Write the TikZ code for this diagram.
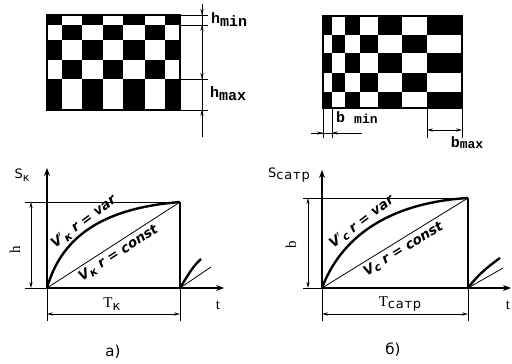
\documentclass[tikz,border=0pt]{standalone}
\usepackage{fontspec}
\setmainfont{Liberation Serif}
\newfontfamily\monof{Liberation Mono}
\newfontfamily\snsf{DejaVu Sans}
\usetikzlibrary{arrows.meta}
\tikzset{
  x=1pt, y=-1pt,
  thin line/.style={line width=0.8pt},
  thick line/.style={line width=2.4pt},
  dimline/.style={line width=0.8pt},
  dimtip/.style={-{Stealth[length=6pt,width=3.2pt]}},
  dimboth/.style={{Stealth[length=6pt,width=3.2pt]}-{Stealth[length=6pt,width=3.2pt]}},
  axisarrow/.style={line width=2.4pt,-{Stealth[length=8pt,width=6pt]}},
  dimlabel/.style={font=\monof\bfseries\fontsize{15}{15}\selectfont, inner sep=0pt},
  curvelabel/.style={font=\snsf\bfseries\itshape\fontsize{13.5}{13.5}\selectfont, inner sep=0pt},
  axlabel/.style={font=\snsf\fontsize{13}{13}\selectfont, inner sep=0pt},
  caption/.style={font=\snsf\fontsize{15}{15}\selectfont, inner sep=0pt},
}
\newcommand{\sbk}[1]{\raisebox{-2.5pt}{\fontsize{11}{11}\selectfont #1}}
\newcommand{\sbw}[1]{\raisebox{-2.5pt}{\snsf\fontsize{13}{13}\selectfont\addfontfeatures{LetterSpace=6} #1}}
\begin{document}
\begin{tikzpicture}
\useasboundingbox (0,0) rectangle (512,364);
% ---------- left checkerboard ----------
\foreach \x/\xx [count=\i] in {47/62,62/82,82/103,103/123,123/145,145/165,165/180}
  \foreach \y/\yy [count=\j] in {15/25,25/40,40/60,60/79,79/110}
  { \pgfmathtruncatemacro\p{mod(\i+\j,2)}
    \ifnum\p=0 \fill[black] (\x,\y) rectangle (\xx,\yy); \fi }
\draw[line width=1.2pt] (47,15) rectangle (180,110);
\foreach \y in {15,25,79,110} \draw[dimline] (180,\y) -- (208,\y);
\coordinate (ht) at (202,4);
\coordinate (hb) at (202,137);
\draw[dimline] (ht) -- (hb);
\draw[dimline,dimtip] (202,6) -- (202,15);
\draw[dimline,dimtip] (202,34) -- (202,25);
\draw[dimline,dimtip] (202,70) -- (202,79);
\draw[dimline,dimtip] (202,119) -- (202,110);
\node[dimlabel,anchor=west] (hmin) at (211,20) {h\raisebox{-3pt}{min}};
\node[dimlabel,anchor=west] (hmax) at (210,94) {h\raisebox{-3pt}{max}};
% ---------- right checkerboard ----------
\foreach \x/\xx [count=\i] in {323/332,332/345,345/360,360/378,378/402,402/427,427/462}
  \foreach \y/\yy [count=\j] in {16/35,35/53,53/73,73/92,92/108}
  { \pgfmathtruncatemacro\p{mod(\i+\j,2)}
    \ifnum\p=0 \fill[black] (\x,\y) rectangle (\xx,\yy); \fi }
\draw[line width=1.2pt] (323,16) rectangle (462,108);
\foreach \x in {323,332,427,462} \draw[dimline] (\x,108) -- (\x,138);
\coordinate (bl) at (311,133);
\coordinate (br) at (362,133);
\draw[dimline] (bl) -- (br);
\draw[dimline,dimtip] (314,133) -- (323,133);
\draw[dimline,dimtip] (341,133) -- (332,133);
\coordinate (bxl) at (427,130);
\coordinate (bxr) at (462,130);
\draw[dimline,dimboth] (bxl) -- (bxr);
\node[dimlabel,anchor=west] (bmin) at (336,118) {b \raisebox{-1pt}{\fontsize{13}{13}\selectfont min}};
\node[dimlabel,anchor=center] (bmax) at (467,143) {b\raisebox{-1pt}{\fontsize{13}{13}\selectfont max}};
% ---------- left graph ----------
\coordinate (O1) at (47,288);
\coordinate (A1) at (180,202);
\coordinate (B1) at (180,288);
\draw[thin line] (25,202) -- (A1);
\draw[thin line] (25,288) -- (O1);
\draw[axisarrow] (O1) -- (47,168);
\draw[axisarrow] (O1) -- (224,288);
\draw[thick line] (A1) -- (B1);
\draw[thin line] (O1) -- (A1);
\draw[thick line] (O1) .. controls (62,235) and (105,208) .. (A1);
\draw[thick line] (B1) .. controls (188,275) and (193,266) .. (201,259);
\draw[thin line] (B1) -- (211,267);
\draw[dimline,dimboth] (31,202) -- (31,288);
\draw[dimline] (47,288) -- (47,321);
\draw[dimline] (180,288) -- (180,321);
\draw[dimline,dimboth] (47,314) -- (180,314);
\node[axlabel] (s1) at (22,175) {S\sbk{к}};
\node[axlabel, font=\fontsize{15}{15}\selectfont, rotate=90] (h1) at (15,250) {h};
\node[axlabel, font=\fontsize{15}{15}\selectfont] (t1) at (112,304) {T\sbw{к}};
\node[axlabel, font=\fontsize{15}{15}\selectfont] (tt1) at (218,305) {t};
\node[curvelabel, rotate=37, anchor=base] (v1) at (86,225) {V$'$\sbk{к} r = var};
\node[curvelabel, rotate=33, anchor=north] (c1) at (115,248) {V\sbk{к} r = const};
\node[caption] (a1) at (113,352) {а)};
% ---------- right graph ----------
\coordinate (O2) at (322,288);
\coordinate (A2) at (468,198);
\coordinate (B2) at (468,288);
\draw[thin line] (303,198) -- (A2);
\draw[thin line] (303,288) -- (O2);
\draw[axisarrow] (O2) -- (322,170);
\draw[axisarrow] (O2) -- (511,288);
\draw[thick line] (A2) -- (B2);
\draw[thin line] (O2) -- (A2);
\draw[thick line] (O2) .. controls (340,240) and (385,203) .. (A2);
\draw[thick line] (B2) .. controls (477,276) and (486,268) .. (500,258);
\draw[thin line] (B2) -- (503,268);
\draw[dimline,dimboth] (308,198) -- (308,288);
\draw[dimline] (322,288) -- (322,321);
\draw[dimline] (468,288) -- (468,321);
\draw[dimline,dimboth] (322,314) -- (468,314);
\node[axlabel] (s2) at (289,175) {S\sbw{сатр}};
\node[axlabel, font=\fontsize{15}{15}\selectfont, rotate=90] (h2) at (291,245) {b};
\node[axlabel, font=\fontsize{15}{15}\selectfont] (t2) at (400,304) {T\sbw{сатр}};
\node[axlabel, font=\fontsize{15}{15}\selectfont] (tt2) at (508,305) {t};
\node[curvelabel, rotate=37, anchor=base] (v2) at (364,225) {V$'$\sbk{с} r = var};
\node[curvelabel, rotate=31.6, anchor=north] (c2) at (400,244) {V\sbk{с} r = const};
\node[caption] (b1) at (393,350) {б)};
\end{tikzpicture}
\end{document}
